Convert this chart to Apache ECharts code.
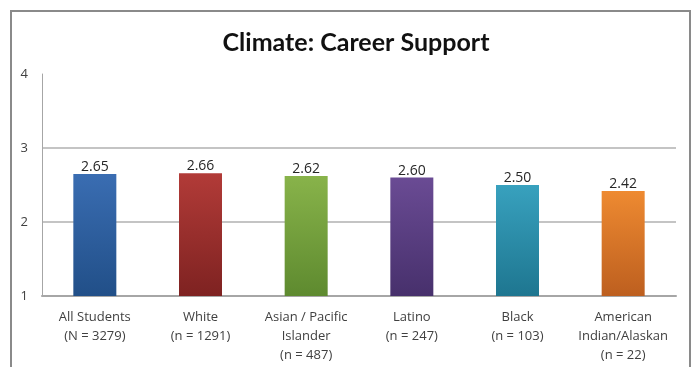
<!DOCTYPE html>
<html>
<head>
<meta charset="utf-8">
<script src="https://cdn.jsdelivr.net/npm/echarts@6/dist/echarts.min.js"></script>
<style>
  html, body { margin: 0; padding: 0; background: #fff; }
  #chart { width: 696px; height: 367px; }
</style>
</head>
<body>
<div id="chart"></div>
<script>
// Mean career-support climate score by student group
const chartTitle = 'Climate: Career Support';
const groups = [
  'All Students\n(N = 3279)',
  'White\n(n = 1291)',
  'Asian / Pacific\nIslander\n(n = 487)',
  'Latino\n(n = 247)',
  'Black\n(n = 103)',
  'American\nIndian/Alaskan\n(n = 22)'
];
const scores = [2.65, 2.66, 2.62, 2.60, 2.50, 2.42];
const yTicks = [1, 2, 3, 4];

// top / bottom shades for each bar's vertical gradient
const barShades = [
  ['#3a6db2', '#214f88'],
  ['#b23b38', '#7e2221'],
  ['#88b34a', '#5e8a2f'],
  ['#6a4b94', '#47306c'],
  ['#38a1be', '#1e7690'],
  ['#ee8a31', '#bd5f1f']
];

const chart = echarts.init(document.getElementById('chart'), null, { renderer: 'canvas' });

const option = {
  backgroundColor: '#ffffff',
  animation: false,
  title: {
    text: chartTitle,
    left: 351,
    top: 25,
    textAlign: 'center',
    textStyle: {
      fontFamily: 'Lato',
      fontWeight: 'bold',
      fontSize: 25,
      color: '#111111'
    }
  },
  graphic: [{
    type: 'rect',
    shape: { x: 11, y: 11, width: 679, height: 380 },
    style: { fill: 'none', stroke: '#8a8a8a', lineWidth: 2 },
    silent: true,
    z: -1
  }],
  grid: { left: 42, right: 20, top: 74, bottom: 71 },
  xAxis: {
    type: 'category',
    data: groups,
    axisLine: { show: true, lineStyle: { color: '#a6a6a6', width: 2 } },
    axisTick: { show: false },
    axisLabel: {
      interval: 0,
      margin: 12,
      fontFamily: 'Open Sans',
      fontSize: 13,
      lineHeight: 19,
      color: '#404040'
    }
  },
  yAxis: {
    type: 'value',
    min: yTicks[0],
    max: yTicks[yTicks.length - 1],
    interval: 1,
    axisLine: { show: true, lineStyle: { color: '#a6a6a6', width: 1 } },
    axisTick: { show: false },
    axisLabel: {
      margin: 14,
      fontFamily: 'Open Sans',
      fontSize: 13,
      color: '#404040'
    },
    splitLine: {
      show: true,
      lineStyle: { color: ['#c4c4c4', '#c4c4c4', '#c4c4c4', 'rgba(0,0,0,0)'], width: 2 }
    }
  },
  series: [{
    type: 'bar',
    barWidth: 43,
    data: scores.map((v, i) => ({
      value: v,
      itemStyle: {
        color: new echarts.graphic.LinearGradient(0, 0, 0, 1, [
          { offset: 0, color: barShades[i][0] },
          { offset: 1, color: barShades[i][1] }
        ])
      }
    })),
    label: {
      show: true,
      position: 'top',
      distance: 0,
      fontFamily: 'Open Sans',
      fontSize: 14,
      color: '#262626',
      formatter: p => p.value.toFixed(2)
    }
  }]
};

chart.setOption(option);
</script>
</body>
</html>
